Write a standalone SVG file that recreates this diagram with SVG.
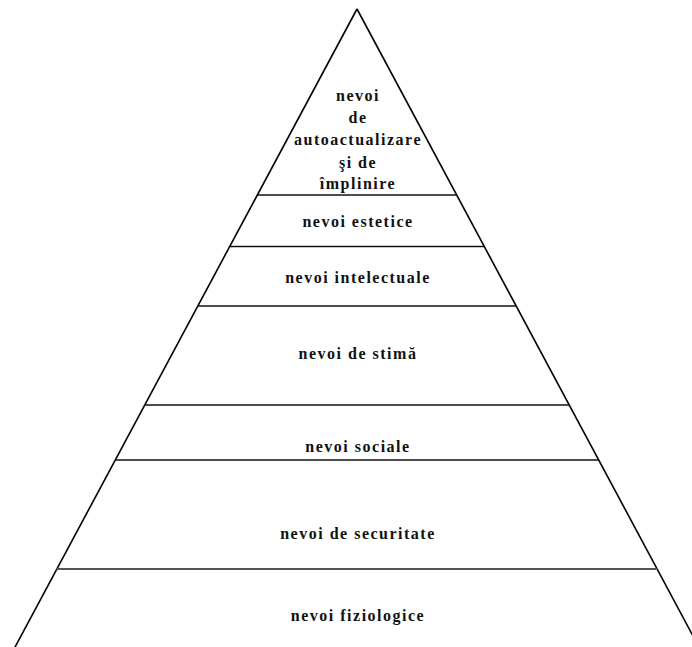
<svg xmlns="http://www.w3.org/2000/svg" width="692" height="647" viewBox="0 0 692 647">
  <style>
    .edge { stroke: #000; stroke-width: 1.6; fill: none; }
    .tier { stroke: #111; stroke-width: 1.6; }
    .base { stroke: #555; stroke-width: 2.2; }
    .label { font-family: "Liberation Serif", "Times New Roman", serif; font-weight: bold; font-size: 16px; letter-spacing: 1.5px; fill: #111; text-anchor: middle; }
  </style>
  <rect width="692" height="647" fill="#fff"/>
  <!-- pyramid outline and tier dividers -->
  <g id="connectors">
    <line class="edge" x1="357" y1="9" x2="14" y2="649"/>
    <line class="edge" x1="357" y1="9" x2="700" y2="649"/>
    <line class="tier" x1="257.4" y1="195" x2="456.6" y2="195"/>
    <line class="tier" x1="230" y1="246.5" x2="484" y2="246.5"/>
    <line class="tier" x1="197.9" y1="306" x2="516.1" y2="306"/>
    <line class="tier" x1="144.9" y1="405" x2="569.1" y2="405"/>
    <line class="tier" x1="115.4" y1="460" x2="598.6" y2="460"/>
    <line class="base" x1="56.5" y1="569" x2="657.5" y2="569"/>
  </g>
  <g id="autoactualizare">
    <text class="label" x="358" y="101">nevoi</text>
    <text class="label" x="358" y="123">de</text>
    <text class="label" x="358" y="145">autoactualizare</text>
    <text class="label" x="358" y="168">şi de</text>
    <text class="label" x="358" y="189">împlinire</text>
  </g>
  <g id="estetice">
    <text class="label" x="358" y="227">nevoi estetice</text>
  </g>
  <g id="intelectuale">
    <text class="label" x="358" y="283">nevoi intelectuale</text>
  </g>
  <g id="stima">
    <text class="label" x="358" y="359">nevoi de stimă</text>
  </g>
  <g id="sociale">
    <text class="label" x="358" y="452">nevoi sociale</text>
  </g>
  <g id="securitate">
    <text class="label" x="358" y="539">nevoi de securitate</text>
  </g>
  <g id="fiziologice">
    <text class="label" x="358" y="621">nevoi fiziologice</text>
  </g>
</svg>
